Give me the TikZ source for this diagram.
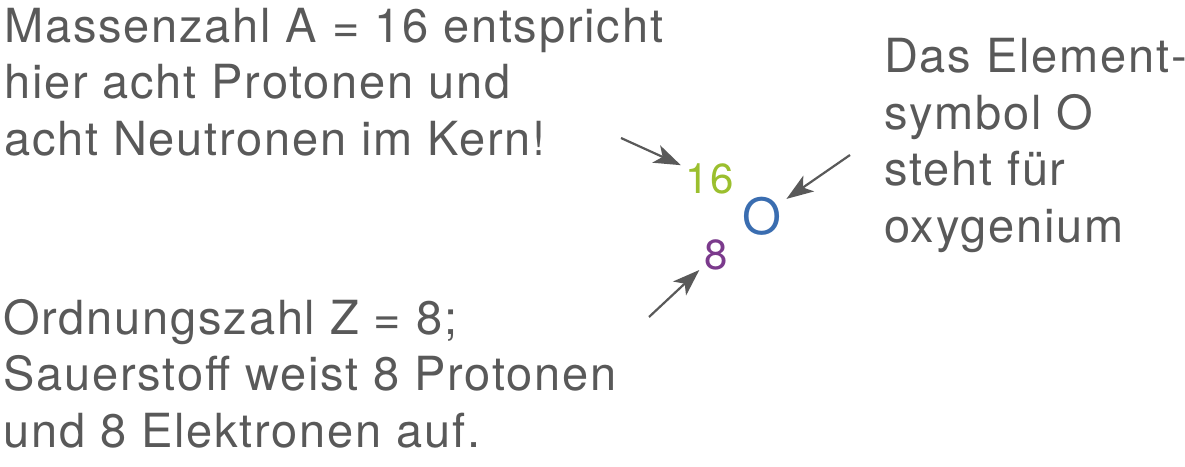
\documentclass[tikz,border=0pt]{standalone}
\usepackage{fontspec}
\setmainfont[LetterSpace=3.8]{TeX Gyre Heros}
\usepackage{xcolor}
\usetikzlibrary{arrows.meta,positioning}
\definecolor{txtgray}{HTML}{595959}
\definecolor{massgreen}{HTML}{9BBF2E}
\definecolor{symblue}{HTML}{3A6DB0}
\definecolor{ordpurple}{HTML}{7B3A8C}

\begin{document}
\begin{tikzpicture}[
  x=1pt, y=-1pt,
  every node/.style={inner sep=0pt, text=txtgray},
  note/.style={anchor=base west, align=left,
               font=\fontsize{47}{56.5}\selectfont},
  nuc/.style={anchor=base, font=\fontsize{42}{42}\selectfont, outer sep=5pt},
  arr/.style={-{Stealth[length=27pt, width=19pt, inset=7pt]},
              line width=2.2pt, draw=txtgray}
]
  \useasboundingbox (0,0) rectangle (1185,466);

  % the three notes (base = last line)
  \node[note] (massnote) at (4,155) {Massenzahl A = 16 entspricht\\hier acht Protonen und\\acht Neutronen im Kern!};
  \node[note] (symnote) at (884,242) {Das Element-\\symbol O\\steht für\\oxygenium};
  \node[note] (ordnote) at (3,447) {Ordnungszahl Z = 8;\\Sauerstoff weist 8 Protonen\\und 8 Elektronen auf.};

  % nuclide symbol
  \node[nuc, text=massgreen] (mass) at (710,193) {16};
  \node[nuc, text=symblue, font=\fontsize{50}{50}\selectfont] (elem) at (762,234) {O};
  \node[nuc, text=ordpurple] (ord) at (716,269) {8};

  \coordinate (massfrom) at (621,138);
  \coordinate (elemfrom) at (850,155);
  \coordinate (ordfrom) at (649,317);

  \draw[arr] (massfrom) -- (mass);
  \draw[arr] (elemfrom) -- (elem);
  \draw[arr] (ordfrom) -- (ord);
\end{tikzpicture}
\end{document}
